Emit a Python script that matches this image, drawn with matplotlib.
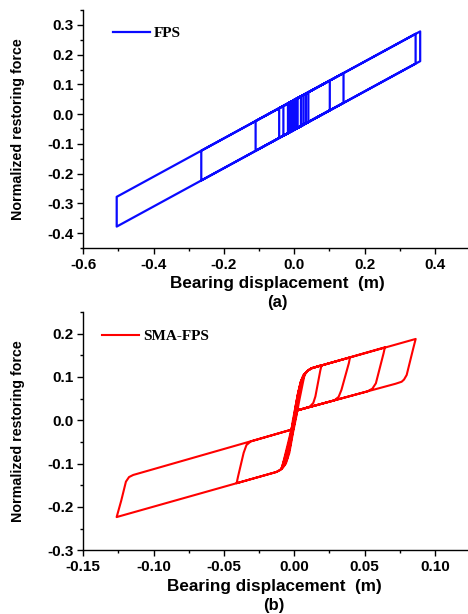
import numpy as np
import matplotlib
matplotlib.use('Agg')
import matplotlib.pyplot as plt
from matplotlib.ticker import MultipleLocator, FormatStrFormatter

# ---- (a) FPS : turning points of the hysteresis path ----
fps_disp = [0.000, 0.358, 0.358, -0.505, -0.505, 0.345, 0.345, -0.2645, -0.2645,
            0.140, 0.140, -0.110, -0.110, 0.101, 0.101, -0.043, -0.043, 0.040, 0.040,
            -0.031, -0.031, 0.033, 0.033, -0.018, -0.018, 0.026, 0.026, -0.012, -0.012,
            0.019, 0.019, -0.008, -0.008, 0.0095, 0.0095, -0.003, -0.003, 0.0066, 0.0066,
            0.002, 0.002]
fps_force = [0.048, 0.278, 0.178, -0.378, -0.278, 0.270, 0.170, -0.223, -0.123,
             0.138, 0.038, -0.123, -0.023, 0.113, 0.013, -0.080, 0.020, 0.073, -0.027,
             -0.073, 0.027, 0.069, -0.031, -0.064, 0.036, 0.064, -0.036, -0.060, 0.040,
             0.060, -0.040, -0.058, 0.042, 0.054, -0.046, -0.054, 0.046, 0.052, -0.048,
             -0.051, 0.049]

# ---- (b) SMA-FPS : path read point by point ----
sma_disp = [0.000, 0.0005, 0.0025, 0.0045, 0.0065, 0.009, 0.012, 0.0194,
            0.0185, 0.0150, 0.0135, 0.011, 0.002,
            0.0005, -0.001, -0.003, -0.005, -0.007, -0.0095, -0.0125, -0.041,
            -0.0400, -0.0360, -0.0340, -0.0310, -0.002,
            -0.0005, 0.001, 0.003, 0.005, 0.007, 0.0095, 0.0125, 0.0396,
            0.0388, 0.0335, 0.0315, 0.0285, 0.002,
            0.000, -0.0015, -0.0035, -0.0055, -0.0075, -0.0100, -0.013, -0.1263,
            -0.1230, -0.1197, -0.1175, -0.1145, -0.002,
            -0.0010, 0.0005, 0.0025, 0.0045, 0.0065, 0.009, 0.012, 0.0644,
            0.0635, 0.0580, 0.0555, 0.052, 0.002,
            0.000, -0.002, -0.004, -0.0065,
            -0.005, -0.0025, -0.001, 0.001, 0.003, 0.0055, 0.0075, 0.010, 0.013, 0.0863,
            0.0845, 0.0799, 0.0780, 0.0763, 0.072, 0.002,
            0.0005, -0.0015, -0.004, -0.0065, -0.009,
            -0.007, -0.004, -0.0015, 0.0005, 0.003, 0.005, 0.0075,
            0.006, 0.0035, 0.0015, -0.001, -0.0035, -0.006, -0.009,
            -0.005, -0.002, 0.000]
sma_force = [0.000, 0.025, 0.060, 0.088, 0.104, 0.113, 0.1199, 0.1275,
             0.115, 0.055, 0.040, 0.0315, 0.0228,
             0.000, -0.025, -0.060, -0.088, -0.104, -0.114, -0.119, -0.1452,
             -0.130, -0.075, -0.057, -0.0488, -0.0215,
             0.000, 0.025, 0.060, 0.088, 0.104, 0.1145, 0.1204, 0.1451,
             0.132, 0.070, 0.054, 0.0461, 0.0228,
             0.000, -0.025, -0.060, -0.088, -0.104, -0.114, -0.1195, -0.2233,
             -0.185, -0.1416, -0.131, -0.1261, -0.0215,
             0.000, 0.025, 0.060, 0.088, 0.104, 0.113, 0.1199, 0.1685,
             0.155, 0.0854, 0.073, 0.0668, 0.0228,
             0.000, -0.030, -0.065, -0.095,
             -0.070, -0.035, -0.010, 0.020, 0.055, 0.090, 0.106, 0.116, 0.1208, 0.1878,
             0.165, 0.1046, 0.094, 0.0890, 0.0844, 0.0228,
             0.000, -0.030, -0.070, -0.098, -0.110,
             -0.090, -0.055, -0.015, 0.020, 0.065, 0.092, 0.108,
             0.085, 0.045, 0.010, -0.030, -0.075, -0.100, -0.1125,
             -0.060, -0.020, 0.000]

xlabel_txt = 'Bearing displacement  (m)'
ylabel_txt = 'Normalized restoring force'

plt.rcParams['font.family'] = ['Liberation Sans', 'DejaVu Sans']

fig = plt.figure(figsize=(4.68, 6.14), dpi=100)
W, H = 468.0, 614.0
ax1 = fig.add_axes([83.3 / W, 1 - 248 / H, (W - 83.3) / W, 238 / H])
ax2 = fig.add_axes([83.3 / W, 1 - 550.3 / H, (W - 83.3) / W, 238.3 / H])


def style(ax, xmaj, ymaj, fmtx, fmty):
    for s in ['top', 'right']:
        ax.spines[s].set_visible(False)
    for s in ['left', 'bottom']:
        ax.spines[s].set_linewidth(1.0)
    ax.xaxis.set_major_locator(MultipleLocator(xmaj))
    ax.xaxis.set_minor_locator(MultipleLocator(xmaj / 2))
    ax.yaxis.set_major_locator(MultipleLocator(ymaj))
    ax.yaxis.set_minor_locator(MultipleLocator(ymaj / 2))
    ax.xaxis.set_major_formatter(FormatStrFormatter(fmtx))
    ax.yaxis.set_major_formatter(FormatStrFormatter(fmty))
    ax.tick_params(which='major', direction='out', length=4, width=1.0, labelsize=11, pad=3)
    ax.tick_params(which='minor', direction='out', length=2.5, width=1.0)
    for lab in ax.get_xticklabels() + ax.get_yticklabels():
        lab.set_fontweight('bold')


ax1.plot(fps_disp, fps_force, color='#0a0aff', lw=1.6, label='FPS')
ax1.set_xlim(-0.6, 0.494)
ax1.set_ylim(-0.45, 0.35)
style(ax1, 0.2, 0.1, '%.1f', '%.1f')

ax2.plot(sma_disp, sma_force, color='#ff0000', lw=1.5, label='SMA-FPS')
ax2.set_xlim(-0.15, 0.1235)
ax2.set_ylim(-0.3, 0.25)
style(ax2, 0.05, 0.1, '%.2f', '%.1f')

for ax, lx, ly, tag, tx, ty in [(ax1, 0.077, 0.903, '(a)', 0.504, -0.227),
                                (ax2, 0.0486, 0.899, '(b)', 0.496, -0.23)]:
    ax.set_xlabel(xlabel_txt, fontsize=12.3, fontweight='bold', va='center')
    ax.xaxis.set_label_coords(tx, -0.151)
    ax.set_ylabel(ylabel_txt, fontsize=10.3, fontweight='bold', va='center')
    ax.yaxis.set_label_coords(-0.17, 0.5)
    ax.text(tx, ty, tag, transform=ax.transAxes, ha='center', va='center',
            fontsize=12, fontweight='bold')
    leg = ax.legend(loc='center left', bbox_to_anchor=(lx, ly), frameon=False,
                    borderpad=0, borderaxespad=0, handlelength=2.4, handletextpad=0.3,
                    prop={'family': 'Liberation Serif', 'weight': 'bold', 'size': 11})

fig.savefig('out.png', dpi=100)
